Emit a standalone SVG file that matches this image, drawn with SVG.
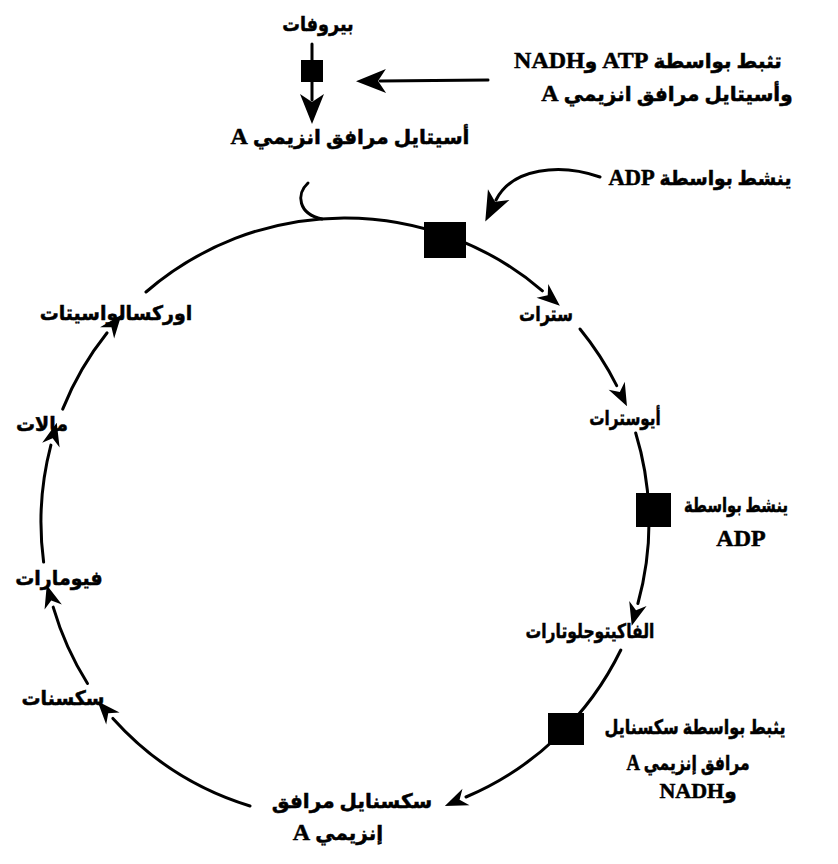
<svg xmlns="http://www.w3.org/2000/svg" width="838" height="864" viewBox="0 0 838 864">
  <style>
    .lbl { font-family: "Liberation Serif", "DejaVu Sans", serif; font-weight: bold; font-size: 20px; fill: #000; stroke: #000; stroke-width: 0.5; }
    .lat { font-size: 24px; }
    .cyc { fill: none; stroke: #000; stroke-width: 3; stroke-linecap: round; }
    .enz { fill: #000; }
  </style>
  <defs>
    <!-- barbed arrowhead, tip sits 13px beyond the path end -->
    <marker id="head" viewBox="-14 -10 24 20" refX="-13" refY="0" markerWidth="24" markerHeight="20" markerUnits="userSpaceOnUse" orient="auto">
      <path d="M10,0 L-13,-9 L-6,0 L-13,9 Z" fill="#000"/>
    </marker>
    <!-- larger head for the pyruvate branch and the ADP input -->
    <marker id="bighead" viewBox="-30 -14 34 28" refX="-20" refY="0" markerWidth="34" markerHeight="28" markerUnits="userSpaceOnUse" orient="auto">
      <path d="M4,0 L-26,-12 L-18,0 L-26,12 Z" fill="#000"/>
    </marker>
  </defs>

  <!-- connectors -->
  <g id="connectors">
    <!-- pyruvate to acetyl-CoA -->
    <path class="cyc" d="M312,44 L312,100" marker-end="url(#bighead)"/>
    <!-- inhibition input to pyruvate dehydrogenase -->
    <path class="cyc" d="M488,80 L380,81" marker-end="url(#bighead)"/>
    <!-- ADP activation of citrate synthase -->
    <path class="cyc" d="M600,177 C560,163 512,168 496,200" marker-end="url(#bighead)"/>
    <!-- acetyl-CoA entering the cycle -->
    <path class="cyc" d="M308,183 C296,194 298,214 322,219"/>
    <!-- cycle arcs, centre (345,522) r 304 -->
    <path class="cyc" d="M146,292 A304,304 0 0 1 542.4,290.8" marker-end="url(#head)"/>
    <path class="cyc" d="M580,329 A304,304 0 0 1 616.7,385.7" marker-end="url(#head)"/>
    <path class="cyc" d="M635.7,433 A304,304 0 0 1 637.9,603.5" marker-end="url(#head)"/>
    <path class="cyc" d="M620.8,650 A304,304 0 0 1 466,797" marker-end="url(#head)"/>
    <path class="cyc" d="M250,806 A304,304 0 0 1 112.9,718.4" marker-end="url(#head)"/>
    <path class="cyc" d="M87.5,683.5 A304,304 0 0 1 53.2,607.1" marker-end="url(#head)"/>
    <path class="cyc" d="M43.6,562 A304,304 0 0 1 50.9,445.1" marker-end="url(#head)"/>
    <path class="cyc" d="M62.7,409.1 A304,304 0 0 1 107.1,332.8" marker-end="url(#head)"/>
  </g>

  <!-- regulated enzymes -->
  <g id="pdh"><rect class="enz" x="301" y="60" width="22" height="22"/></g>
  <g id="citrate-synthase"><rect class="enz" x="424" y="222" width="42" height="36"/></g>
  <g id="isocitrate-dh"><rect class="enz" x="636" y="493" width="35" height="34"/></g>
  <g id="akg-dh"><rect class="enz" x="548" y="713" width="36" height="32"/></g>

  <!-- metabolites -->
  <g id="pyruvate"><text class="lbl" transform="translate(318,31) scale(0.88,1)" text-anchor="middle" direction="rtl">بيروفات</text></g>
  <g id="acetyl-coa"><text class="lbl" x="350" y="144" text-anchor="middle" direction="rtl">أسيتايل مرافق انزيمي <tspan class="lat">A</tspan></text></g>
  <g id="citrate"><text class="lbl" transform="translate(546,321) scale(0.8,1)" text-anchor="middle" direction="rtl">سترات</text></g>
  <g id="isocitrate"><text class="lbl" transform="translate(625,425) scale(0.76,1)" text-anchor="middle" direction="rtl">أيوسترات</text></g>
  <g id="alpha-ketoglutarate"><text class="lbl" transform="translate(590,638) scale(0.78,1)" text-anchor="middle" direction="rtl">الفاكيتوجلوتارات</text></g>
  <g id="succinyl-coa">
    <text class="lbl" x="352" y="808" text-anchor="middle" direction="rtl">سكسنايل مرافق</text>
    <text class="lbl" x="338" y="840" text-anchor="middle" direction="rtl">إنزيمي <tspan class="lat">A</tspan></text>
  </g>
  <g id="succinate"><text class="lbl" transform="translate(63,705) scale(0.95,1)" text-anchor="middle" direction="rtl">سكسنات</text></g>
  <g id="fumarate"><text class="lbl" transform="translate(59,585) scale(0.95,1)" text-anchor="middle" direction="rtl">فيومارات</text></g>
  <g id="malate"><text class="lbl" transform="translate(42,431) scale(0.95,1)" text-anchor="middle" direction="rtl">مالات</text></g>
  <g id="oxaloacetate"><text class="lbl" transform="translate(116,320) scale(0.95,1)" text-anchor="middle" direction="rtl">اوركسالواسيتات</text></g>

  <!-- regulation notes -->
  <g id="pdh-note">
    <text class="lbl" x="648" y="68" text-anchor="middle" direction="rtl">تثبط بواسطة <tspan class="lat">ATP</tspan> و<tspan class="lat">NADH</tspan></text>
    <text class="lbl" x="667" y="101" text-anchor="middle" direction="rtl">وأسيتايل مرافق انزيمي <tspan class="lat">A</tspan></text>
  </g>
  <g id="cs-note"><text class="lbl" transform="translate(700,185) scale(0.94,1)" text-anchor="middle" direction="rtl">ينشط بواسطة <tspan class="lat">ADP</tspan></text></g>
  <g id="idh-note">
    <text class="lbl" transform="translate(736,512) scale(0.74,1)" text-anchor="middle" direction="rtl">ينشط بواسطة</text>
    <text class="lbl lat" x="741" y="546" text-anchor="middle">ADP</text>
  </g>
  <g id="akg-note">
    <text class="lbl" transform="translate(695,734) scale(0.8,1)" text-anchor="middle" direction="rtl">يثبط بواسطة سكسنايل</text>
    <text class="lbl" transform="translate(688,770) scale(0.78,1)" text-anchor="middle" direction="rtl">مرافق إنزيمي <tspan class="lat">A</tspan></text>
    <text class="lbl" x="698" y="798" text-anchor="middle" direction="rtl">و<tspan class="lat" style="font-size:22px">NADH</tspan></text>
  </g>
</svg>
